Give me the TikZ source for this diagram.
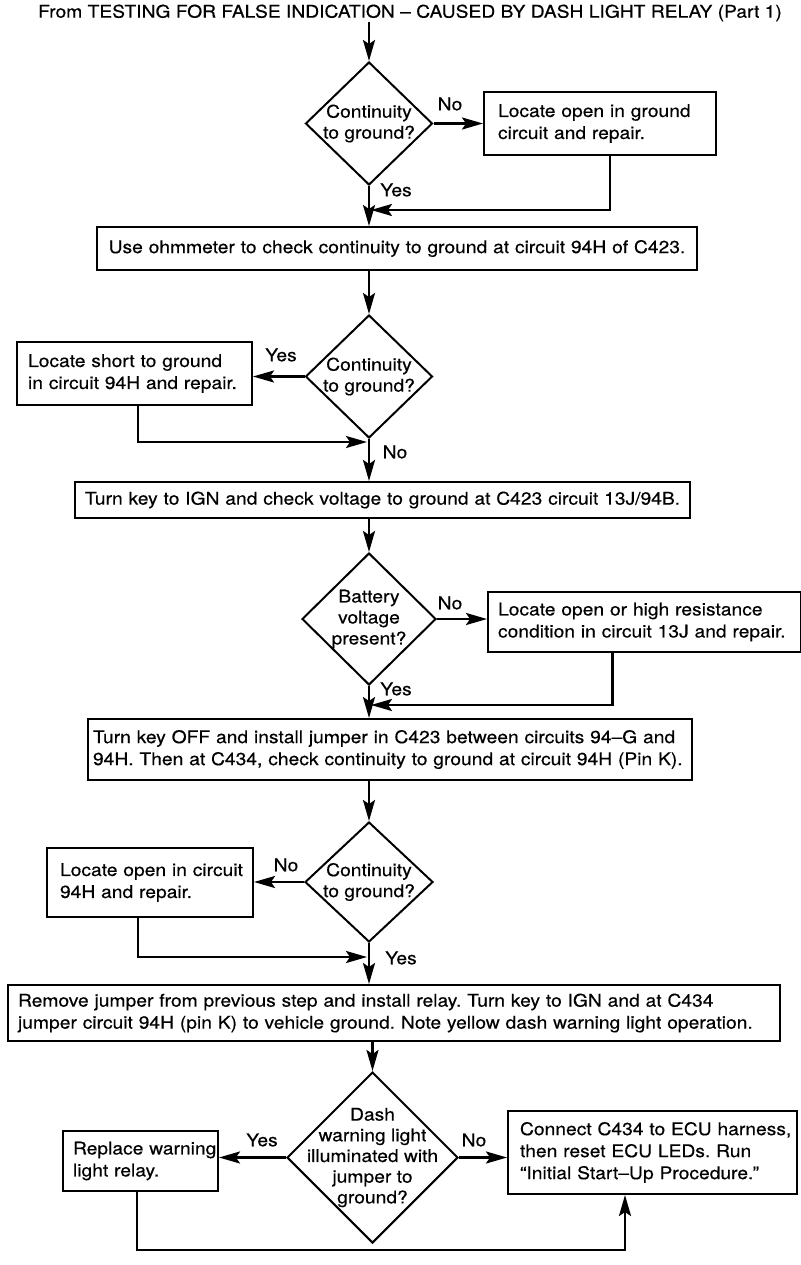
\documentclass[tikz,border=0pt]{standalone}
\usepackage{fontspec}
\setmainfont{TeX Gyre Heros}[FakeStretch=1.1,FakeBold=0.4]
\usetikzlibrary{shapes.geometric,arrows.meta}
\newcommand{\nohyph}{\frenchspacing\hyphenpenalty=10000 \exhyphenpenalty=10000 \hbadness=10000 \hfuzz=200pt\relax}
\newcommand{\diafont}{\fontsize{17.5}{22}\selectfont\nohyph}
\newcommand{\diafontb}{\fontsize{17.5}{21}\selectfont\nohyph}
\newcommand{\diafontc}{\fontsize{17.5}{20.7}\selectfont\nohyph}
\begin{document}
\begin{tikzpicture}[x=1pt,y=-1pt,
  txt/.style={font=\diafont, inner sep=0pt},
  box/.style={draw, line width=2pt, rectangle, inner ysep=0pt, align=left, font=\diafont},
  cbox/.style={box, align=center},
  dia/.style={draw, line width=2pt, diamond, inner sep=0pt},
  dtext/.style={align=center, inner sep=0pt, font=\diafontb},
  arr/.style={line width=2.4pt, -{Stealth[length=21pt,width=12pt,inset=4pt]}}
]
\useasboundingbox (0,0) rectangle (800,1265);

\node[txt] (title) at (410,13) {From TESTING FOR FALSE INDICATION -- CAUSED BY DASH LIGHT RELAY (Part 1)};

% diamond 1
\node[dia, minimum width=127pt, minimum height=123pt] (d1) at (369,123.5) {};
\node[dtext] (d1t) at (d1) {Continuity\\to ground?};
\node[box, minimum width=232pt, minimum height=63pt, inner xsep=14pt, text width=204pt] (A) at (600,123.5)
  {Locate open in ground\\circuit and repair.};
\node[cbox, minimum width=600pt, minimum height=43pt, inner xsep=10pt, text width=580pt] (B) at (397,248.5)
  {Use ohmmeter to check continuity to ground at circuit 94H of C423.};

% diamond 2
\node[dia, minimum width=127pt, minimum height=123pt] (d2) at (369,376.5) {};
\node[dtext] (d2t) at (d2) {Continuity\\to ground?};
\node[box, minimum width=235pt, minimum height=63pt, inner xsep=11pt, text width=213pt] (C) at (134.5,373.5)
  {Locate short to ground\\in circuit 94H and repair.};
\node[cbox, minimum width=615pt, minimum height=36pt, inner xsep=8pt, text width=599pt] (D) at (382.5,500)
  {Turn key to IGN and check voltage to ground at C423 circuit 13J/94B.};

% diamond 3
\node[dia, minimum width=134pt, minimum height=132pt] (d3) at (369,619) {};
\node[dtext] (d3t) at (d3) {Battery\\voltage\\present?};
\node[box, minimum width=313pt, minimum height=60pt, inner xsep=10pt, text width=293pt] (E) at (644.5,622)
  {Locate~open~or~high~resistance\\condition~in~circuit~13J~and~repair.};
\node[box, minimum width=604pt, minimum height=61pt, inner xsep=5pt, text width=594pt] (F) at (390,749.5)
  {Turn key OFF and install jumper in C423 between circuits 94--G and\\94H. Then at C434, check continuity to ground at circuit 94H (Pin K).};

% diamond 4
\node[dia, minimum width=128pt, minimum height=120pt] (d4) at (369,882) {};
\node[dtext] (d4t) at (d4) {Continuity\\to ground?};
\node[box, minimum width=206pt, minimum height=69pt, inner xsep=13pt, text width=180pt] (G) at (150,882.5)
  {Locate~open~in~circuit\\94H and repair.};
\node[box, minimum width=772pt, minimum height=56pt, inner xsep=10pt, text width=752pt] (H) at (394,1013)
  {Remove jumper from previous step and install relay. Turn key to IGN and at C434\\jumper circuit 94H (pin K) to vehicle ground. Note yellow dash warning light operation.};

% diamond 5
\node[dia, minimum width=171pt, minimum height=171pt] (d5) at (372.5,1157.5) {};
\node[dtext, font=\diafontc] (d5t) at (d5) {Dash\\warning light\\illuminated with\\jumper to\\ground?};
\node[box, minimum width=155pt, minimum height=60pt, inner xsep=10pt, text width=135pt] (I) at (140.5,1161)
  {Replace~warning\\light relay.};
\node[box, minimum width=289pt, minimum height=83pt, inner xsep=12pt, text width=265pt] (J) at (652.5,1152.5)
  {Connect~C434~to~ECU~harness,\\then~reset~ECU~LEDs.~Run\\``Initial~Start--Up~Procedure.''};

% labels
\node[txt] (l1) at (450,104) {No};
\node[txt] (l2) at (396,190) {Yes};
\node[txt] (l3) at (281,355) {Yes};
\node[txt] (l4) at (395,452) {No};
\node[txt] (l5) at (450,603) {No};
\node[txt] (l6) at (396,689) {Yes};
\node[txt] (l7) at (286,865) {No};
\node[txt] (l8) at (401,958) {Yes};
\node[txt] (l9) at (262,1140) {Yes};
\node[txt] (l10) at (474,1140) {No};

% junction coordinates
\coordinate (j1) at (371,210);
\coordinate (j2) at (367,442);
\coordinate (j3) at (371,705);
\coordinate (j4) at (367,957);
\coordinate (j5) at (137,1250);

% connectors
\draw[arr] (title.south -| d1.north) -- (d1.north);
\draw[arr] (d1.east) -- (d1.east -| A.west);
\draw[arr] (d1.south) -- (B.north -| d1.south);
\draw[arr] ([xshift=10pt]A.south) |- (j1);

\draw[arr] (B.south -| d2.north) -- (d2.north);
\draw[arr] (d2.west) -- (d2.west -| C.east);
\draw[arr] (d2.south) -- (D.north -| d2.south);
\draw[arr] ([xshift=3.5pt]C.south) |- (j2);

\draw[arr] (D.south -| d3.north) -- (d3.north);
\draw[arr] (d3.east) -- (d3.east -| E.west);
\draw[arr] (d3.south) -- (F.north -| d3.south);
\draw[arr] ([xshift=-32pt]E.south) |- (j3);

\draw[arr] (F.south -| d4.north) -- (d4.north);
\draw[arr] (d4.west) -- (d4.west -| G.east);
\draw[arr] (d4.south) -- (H.north -| d4.south);
\draw[arr] ([xshift=-12pt]G.south) |- (j4);

\draw[arr] (H.south -| d5.north) -- (d5.north);
\draw[arr] (d5.west) -- (d5.west -| I.east);
\draw[arr] (d5.east) -- (d5.east -| J.west);
\draw[arr] ([xshift=-3.5pt]I.south) -- (j5) -| ([xshift=-27.5pt]J.south);
\end{tikzpicture}
\end{document}
